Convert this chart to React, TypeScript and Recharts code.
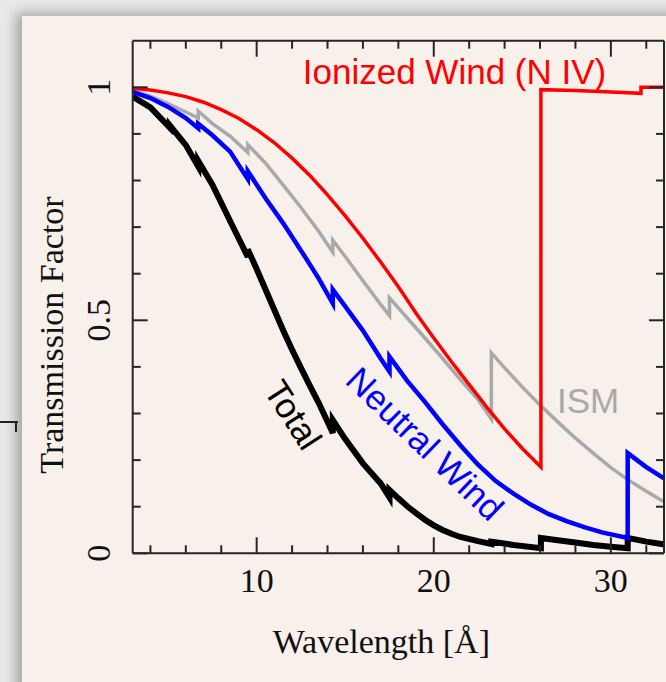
import React from 'react';
import { LineChart, Line, XAxis, YAxis, ReferenceDot } from 'recharts';

// wavelength [Å] / transmission; repeated wavelengths are absorption edges
const ionizedWave = [3, 4, 5, 6, 7, 8, 9, 10, 11, 12, 13, 14, 15, 16, 17, 18, 19, 20, 21, 22, 23, 24, 25, 26.05, 26.05, 28, 30, 31.7, 31.7, 33.2];
const ionizedTrans = [0.998, 0.994, 0.988, 0.98, 0.968, 0.952, 0.933, 0.909, 0.881, 0.848, 0.811, 0.769, 0.724, 0.676, 0.625, 0.572, 0.515, 0.462, 0.411, 0.362, 0.313, 0.267, 0.225, 0.185, 0.995, 0.993, 0.99, 0.987, 1.0, 1.0];

const neutralWave = [3, 4, 5, 6, 6.7, 6.7, 7.5, 8.5, 9.5, 9.5, 10.5, 11.5, 12.5, 13.5, 14.3, 14.3, 15, 16, 17, 17.5, 17.5, 18.5, 19.5, 20.5, 21.5, 22.5, 23.5, 24.5, 25.5, 26.5, 27.5, 28.5, 29.5, 30.95, 30.95, 32, 33.2];
const neutralTrans = [0.99, 0.977, 0.958, 0.934, 0.912, 0.922, 0.897, 0.862, 0.803, 0.82, 0.762, 0.708, 0.65, 0.59, 0.536, 0.566, 0.53, 0.478, 0.418, 0.39, 0.422, 0.37, 0.325, 0.277, 0.232, 0.19, 0.155, 0.128, 0.104, 0.084, 0.069, 0.056, 0.045, 0.033, 0.215, 0.185, 0.156];

const ismWave = [3, 4, 5, 6, 6.7, 6.7, 7.5, 8.5, 9.5, 9.5, 10.5, 11.5, 12.5, 13.5, 14.3, 14.3, 15, 16, 17, 17.5, 17.5, 18.5, 19.5, 20.5, 21.5, 22.5, 23.25, 23.25, 24, 25, 26, 27, 28, 29, 30, 31, 32, 33.2];
const ismTrans = [0.993, 0.981, 0.965, 0.947, 0.934, 0.949, 0.922, 0.895, 0.86, 0.877, 0.837, 0.79, 0.742, 0.691, 0.646, 0.672, 0.637, 0.585, 0.534, 0.51, 0.548, 0.505, 0.462, 0.418, 0.373, 0.33, 0.288, 0.43, 0.398, 0.357, 0.318, 0.282, 0.247, 0.215, 0.184, 0.157, 0.133, 0.106];

const totalWave = [3, 4, 5.1, 5.1, 6, 6.7, 6.7, 7.5, 8.5, 9.5, 9.5, 10, 10.5, 11, 11.5, 12, 12.5, 13, 13.5, 14.3, 14.3, 15, 16, 17, 17.5, 17.5, 18, 18.5, 19, 19.5, 20, 20.5, 21, 21.5, 22.5, 23.25, 23.25, 24.5, 26.05, 26.05, 27, 28, 29, 30, 30.95, 30.95, 32, 33.2];
const totalTrans = [0.98, 0.957, 0.913, 0.918, 0.876, 0.83, 0.842, 0.791, 0.713, 0.636, 0.652, 0.61, 0.566, 0.522, 0.478, 0.437, 0.398, 0.36, 0.323, 0.258, 0.286, 0.245, 0.193, 0.15, 0.12, 0.136, 0.118, 0.101, 0.086, 0.072, 0.06, 0.05, 0.042, 0.035, 0.026, 0.02, 0.025, 0.018, 0.011, 0.033, 0.028, 0.023, 0.018, 0.014, 0.011, 0.033, 0.025, 0.018];

const xTicks = [4, 6, 8, 10, 12, 14, 16, 18, 20, 22, 24, 26, 28, 30, 32];
const xLabels = [10, 20, 30];
const yTicks = [0, 0.1, 0.2, 0.3, 0.4, 0.5, 0.6, 0.7, 0.8, 0.9, 1];
const yLabels = [0, 0.5, 1];

const SERIF = '"Liberation Serif", "Times New Roman", serif';
const SANS = '"Liberation Sans", Arial, Helvetica, sans-serif';
const AXIS = '#262626';

const toPoints = (wave: number[], trans: number[]) => wave.map((w, i) => ({ w, t: trans[i] }));

const isMajorX = (v: number) => xLabels.includes(v);
const isMajorY = (v: number) => yLabels.some((l) => Math.abs(l - v) < 1e-6);

const BottomTick = ({ x, y, payload }: any) => {
  const major = isMajorX(payload.value);
  return (
    <g>
      <line x1={x} x2={x} y1={y} y2={y - (major ? 16 : 8)} stroke={AXIS} strokeWidth={2} />
      {major && (
        <text x={x} y={y + 39} textAnchor="middle" fontFamily={SERIF} fontSize={34} fill="#111">
          {payload.value}
        </text>
      )}
    </g>
  );
};

const TopTick = ({ x, y, payload }: any) => {
  const major = isMajorX(payload.value);
  return <line x1={x} x2={x} y1={y} y2={y + (major ? 16 : 8)} stroke={AXIS} strokeWidth={2} />;
};

const LeftTick = ({ x, y, payload }: any) => {
  const major = isMajorY(payload.value);
  return (
    <g>
      <line x1={x} x2={x + (major ? 15 : 8)} y1={y} y2={y} stroke={AXIS} strokeWidth={2} />
      {major && (
        <text transform={`translate(${x - 23}, ${y}) rotate(-90)`} textAnchor="middle" fontFamily={SERIF} fontSize={34} fill="#111">
          {String(Math.round(payload.value * 10) / 10)}
        </text>
      )}
    </g>
  );
};

const RightTick = ({ x, y, payload }: any) => {
  const major = isMajorY(payload.value);
  return <line x1={x} x2={x - (major ? 15 : 8)} y1={y} y2={y} stroke={AXIS} strokeWidth={2} />;
};

const note = (text: string, color: string, angle: number, dy: string) => (props: any) => {
  const { viewBox } = props;
  const cx = viewBox.x + viewBox.width / 2;
  const cy = viewBox.y + viewBox.height / 2;
  return (
    <text
      x={cx}
      y={cy}
      dy={dy}
      textAnchor="middle"
      fill={color}
      fontFamily={SANS}
      fontSize={35}
      transform={angle ? `rotate(${angle}, ${cx}, ${cy})` : undefined}
    >
      {text}
    </text>
  );
};

export default function App() {
  return (
    <div style={{ position: 'absolute', left: 0, top: 0, width: 666, height: 682, overflow: 'hidden', background: '#e9e9e7' }}>
      <div
        style={{
          position: 'absolute',
          left: 22,
          top: 16,
          width: 720,
          height: 720,
          background: '#f8f0ea',
          boxShadow: '-6px -3px 12px rgba(0,0,0,0.3)',
        }}
      />
      <div style={{ position: 'absolute', left: 0, top: 421, width: 18, height: 2, background: '#222' }} />
      <div style={{ position: 'absolute', left: 15, top: 421, width: 2, height: 11, background: '#222' }} />
      <div style={{ position: 'absolute', left: 0, top: 0 }}>
        <LineChart width={666} height={682} margin={{ top: 39.7, right: 1, bottom: 127.7, left: 0 }}>
          <XAxis
            xAxisId="bottom"
            dataKey="w"
            type="number"
            domain={[3, 33]}
            allowDataOverflow
            ticks={xTicks}
            interval={0}
            height={1}
            tickSize={0}
            tickMargin={0}
            tickLine={false}
            tick={<BottomTick />}
            axisLine={{ stroke: AXIS, strokeWidth: 2 }}
            label={{
              content: (p: any) => (
                <text x={p.viewBox.x + p.viewBox.width / 2 - 17} y={p.viewBox.y + 100} textAnchor="middle" fontFamily={SERIF} fontSize={34} fill="#111">
                  Wavelength [Å]
                </text>
              ),
            }}
          />
          <XAxis
            xAxisId="top"
            orientation="top"
            dataKey="w"
            type="number"
            domain={[3, 33]}
            allowDataOverflow
            ticks={xTicks}
            interval={0}
            height={1}
            tickSize={0}
            tickMargin={0}
            tickLine={false}
            tick={<TopTick />}
            axisLine={{ stroke: AXIS, strokeWidth: 2 }}
          />
          <YAxis
            yAxisId="left"
            type="number"
            domain={[0, 1.1]}
            allowDataOverflow
            ticks={yTicks}
            interval={0}
            width={132.7}
            tickSize={0}
            tickMargin={0}
            tickLine={false}
            tick={<LeftTick />}
            axisLine={{ stroke: AXIS, strokeWidth: 2 }}
            label={{
              content: (p: any) => (
                <text
                  transform={`translate(${p.viewBox.x + 63}, ${p.viewBox.y + p.viewBox.height / 2 + 38}) rotate(-90)`}
                  textAnchor="middle"
                  fontFamily={SERIF}
                  fontSize={34}
                  fill="#111"
                >
                  Transmission Factor
                </text>
              ),
            }}
          />
          <YAxis
            yAxisId="right"
            orientation="right"
            type="number"
            domain={[0, 1.1]}
            allowDataOverflow
            ticks={yTicks}
            interval={0}
            width={1}
            tickSize={0}
            tickMargin={0}
            tickLine={false}
            tick={<RightTick />}
            axisLine={{ stroke: AXIS, strokeWidth: 2 }}
          />

          <Line data={toPoints(totalWave, totalTrans)} dataKey="t" xAxisId="bottom" yAxisId="left" type="linear" stroke="#000000" strokeWidth={6} dot={false} isAnimationActive={false} />
          <Line data={toPoints(ismWave, ismTrans)} dataKey="t" xAxisId="bottom" yAxisId="left" type="linear" stroke="#a9a9a9" strokeWidth={3.5} dot={false} isAnimationActive={false} />
          <Line data={toPoints(neutralWave, neutralTrans)} dataKey="t" xAxisId="bottom" yAxisId="left" type="linear" stroke="#0000ff" strokeWidth={4.5} dot={false} isAnimationActive={false} />
          <Line data={toPoints(ionizedWave, ionizedTrans)} dataKey="t" xAxisId="bottom" yAxisId="left" type="linear" stroke="#ff0000" strokeWidth={3.5} dot={false} isAnimationActive={false} />

          <ReferenceDot xAxisId="bottom" yAxisId="left" x={21.17} y={1.008} r={0} ifOverflow="visible" label={note('Ionized Wind (N IV)', '#ff0000', 0, '0')} />
          <ReferenceDot xAxisId="bottom" yAxisId="left" x={28.71} y={0.301} r={0} ifOverflow="visible" label={note('ISM', '#a9a9a9', 0, '0')} />
          <ReferenceDot xAxisId="bottom" yAxisId="left" x={19.51} y={0.235} r={0} ifOverflow="visible" label={note('Neutral Wind', '#0000ff', 44, '0.35em')} />
          <ReferenceDot xAxisId="bottom" yAxisId="left" x={12.06} y={0.297} r={0} ifOverflow="visible" label={note('Total', '#000000', 57, '0.35em')} />
        </LineChart>
      </div>
    </div>
  );
}
